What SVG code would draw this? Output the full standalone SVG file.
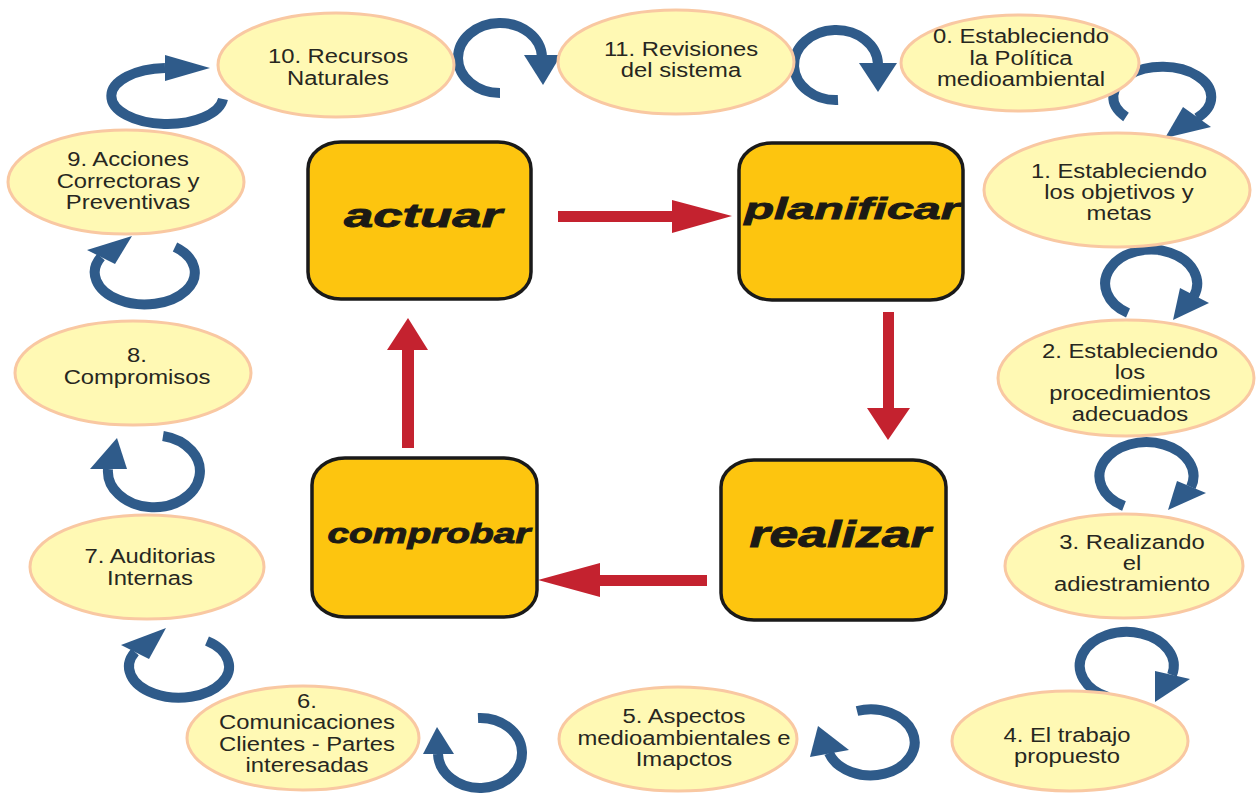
<svg xmlns="http://www.w3.org/2000/svg" width="1257" height="795" viewBox="0 0 1257 795">
<style>
.el{fill:#FFF9B4;stroke:#F9C8A2;stroke-width:3}
.et{font-family:"Liberation Sans",Arial,sans-serif;font-size:20px;fill:#27271F;text-anchor:middle}
.box{fill:#FDC50F;stroke:#1A1A1A;stroke-width:3.5}
.bt{font-family:"Liberation Sans",Arial,sans-serif;font-weight:bold;font-style:italic;fill:#1C1A15;stroke:#1C1A15;stroke-width:0.9;text-anchor:middle}
.ring{fill:none;stroke:#2F5B8A;stroke-width:10;stroke-linecap:butt}
.bh{fill:#2F5B8A}
.red{fill:#C4222F}
</style>
<rect width="1257" height="795" fill="#FFFFFF"/>

<g id="connectors">
  <!-- red PDCA arrows -->
  <polygon class="red" points="558,211 672,211 672,200 732,216 672,233 672,222 558,222"/>
  <polygon class="red" points="883,312 894,312 894,408 910,408 888,440 867,408 883,408"/>
  <polygon class="red" points="707,575 707,586 600,586 600,597 538,580 600,563 600,575"/>
  <polygon class="red" points="402,448 414,448 414,350 428,350 408,318 387,350 402,350"/>
  <!-- blue loop arrows -->
  <path class="ring" d="M223,99 A56,28 0 1 1 165,68"/>
  <polygon class="bh" points="165,55 165,81 210,68"/>
  <path class="ring" d="M500,93 A42,35 0 1 1 542,57"/>
  <polygon class="bh" points="524,55 561,55 543,85"/>
  <path class="ring" d="M838,100 A42,35 0 1 1 878,64"/>
  <polygon class="bh" points="859,63 897,63 878,92"/>
  <path class="ring" d="M1126,117 A49,30 0 1 1 1197,118"/>
  <polygon class="bh" points="1183,107 1211,127 1165,138"/>
  <path class="ring" d="M1128,313 A46,34 0 1 1 1194,296"/>
  <polygon class="bh" points="1180,288 1209,303 1173,320"/>
  <path class="ring" d="M1124,506 A47,34 0 1 1 1191,487"/>
  <polygon class="bh" points="1177,481 1206,493 1168,510"/>
  <path class="ring" d="M1108,697 A47,34 0 1 1 1172,675"/>
  <polygon class="bh" points="1155,671 1190,679 1155,702"/>
  <path class="ring" d="M857,711 A44,33 0 1 1 829,753"/>
  <polygon class="bh" points="810,757 849,750 818,726"/>
  <path class="ring" d="M478,718 A42,35 0 1 1 438,754"/>
  <polygon class="bh" points="423,754 454,754 437,727"/>
  <path class="ring" d="M207,641 A50,31 0 1 1 135,652"/>
  <polygon class="bh" points="121,645 149,659 166,628"/>
  <path class="ring" d="M163,436 A46,36 0 1 1 108,469"/>
  <polygon class="bh" points="90,469 127,469 117,438"/>
  <path class="ring" d="M175,247 A50,32 0 1 1 101,257"/>
  <polygon class="bh" points="87,250 115,264 132,236"/>
</g>

<g id="actuar">
  <rect class="box" x="308" y="142" width="223" height="157" rx="33" ry="27"/>
  <text class="bt" x="423" y="227" font-size="34" textLength="158" lengthAdjust="spacingAndGlyphs">actuar</text>
</g>
<g id="planificar">
  <rect class="box" x="739" y="143" width="224" height="157" rx="33" ry="27"/>
  <text class="bt" x="852" y="219" font-size="30" textLength="215" lengthAdjust="spacingAndGlyphs">planificar</text>
</g>
<g id="realizar">
  <rect class="box" x="721" y="460" width="225" height="160" rx="33" ry="27"/>
  <text class="bt" x="840" y="547" font-size="36" textLength="181" lengthAdjust="spacingAndGlyphs">realizar</text>
</g>
<g id="comprobar">
  <rect class="box" x="312" y="458" width="225" height="159" rx="33" ry="27"/>
  <text class="bt" x="429" y="543" font-size="27" textLength="203" lengthAdjust="spacingAndGlyphs">comprobar</text>
</g>

<g id="n0">
  <ellipse class="el" cx="1020" cy="63" rx="119" ry="48"/>
  <g transform="translate(1021 0) scale(1.19 1)"><text class="et"><tspan x="0" y="43">0. Estableciendo</tspan><tspan x="0" y="65">la Política</tspan><tspan x="0" y="86">medioambiental</tspan></text></g>
</g>
<g id="n1">
  <ellipse class="el" cx="1117" cy="190" rx="133" ry="57"/>
  <g transform="translate(1119 0) scale(1.19 1)"><text class="et"><tspan x="0" y="178">1. Estableciendo</tspan><tspan x="0" y="199">los objetivos y</tspan><tspan x="0" y="220">metas</tspan></text></g>
</g>
<g id="n2">
  <ellipse class="el" cx="1126" cy="378" rx="128" ry="58"/>
  <g transform="translate(1130 0) scale(1.19 1)"><text class="et"><tspan x="0" y="358">2. Estableciendo</tspan><tspan x="0" y="379">los</tspan><tspan x="0" y="400">procedimientos</tspan><tspan x="0" y="421">adecuados</tspan></text></g>
</g>
<g id="n3">
  <ellipse class="el" cx="1124" cy="566" rx="119" ry="52"/>
  <g transform="translate(1132 0) scale(1.19 1)"><text class="et"><tspan x="0" y="549">3. Realizando</tspan><tspan x="0" y="570">el</tspan><tspan x="0" y="591">adiestramiento</tspan></text></g>
</g>
<g id="n4">
  <ellipse class="el" cx="1070" cy="741" rx="118" ry="50"/>
  <g transform="translate(1067 0) scale(1.19 1)"><text class="et"><tspan x="0" y="742">4. El trabajo</tspan><tspan x="0" y="763">propuesto</tspan></text></g>
</g>
<g id="n5">
  <ellipse class="el" cx="678" cy="739" rx="119" ry="52"/>
  <g transform="translate(684 0) scale(1.19 1)"><text class="et"><tspan x="0" y="723">5. Aspectos</tspan><tspan x="0" y="745">medioambientales e</tspan><tspan x="0" y="766">Imapctos</tspan></text></g>
</g>
<g id="n6">
  <ellipse class="el" cx="303" cy="738" rx="116" ry="52"/>
  <g transform="translate(307 0) scale(1.19 1)"><text class="et"><tspan x="0" y="708">6.</tspan><tspan x="0" y="729">Comunicaciones</tspan><tspan x="0" y="751">Clientes - Partes</tspan><tspan x="0" y="772">interesadas</tspan></text></g>
</g>
<g id="n7">
  <ellipse class="el" cx="147" cy="567" rx="117" ry="52"/>
  <g transform="translate(150 0) scale(1.19 1)"><text class="et"><tspan x="0" y="563">7. Auditorias</tspan><tspan x="0" y="585">Internas</tspan></text></g>
</g>
<g id="n8">
  <ellipse class="el" cx="133" cy="373" rx="118" ry="52"/>
  <g transform="translate(137 0) scale(1.19 1)"><text class="et"><tspan x="0" y="362">8.</tspan><tspan x="0" y="384">Compromisos</tspan></text></g>
</g>
<g id="n9">
  <ellipse class="el" cx="126" cy="182" rx="118" ry="52"/>
  <g transform="translate(128 0) scale(1.19 1)"><text class="et"><tspan x="0" y="166">9. Acciones</tspan><tspan x="0" y="188">Correctoras y</tspan><tspan x="0" y="209">Preventivas</tspan></text></g>
</g>
<g id="n10">
  <ellipse class="el" cx="336" cy="65" rx="118" ry="52"/>
  <g transform="translate(338 0) scale(1.19 1)"><text class="et"><tspan x="0" y="63">10. Recursos</tspan><tspan x="0" y="85">Naturales</tspan></text></g>
</g>
<g id="n11">
  <ellipse class="el" cx="676" cy="62" rx="118" ry="52"/>
  <g transform="translate(681 0) scale(1.19 1)"><text class="et"><tspan x="0" y="56">11. Revisiones</tspan><tspan x="0" y="77">del sistema</tspan></text></g>
</g>
</svg>
